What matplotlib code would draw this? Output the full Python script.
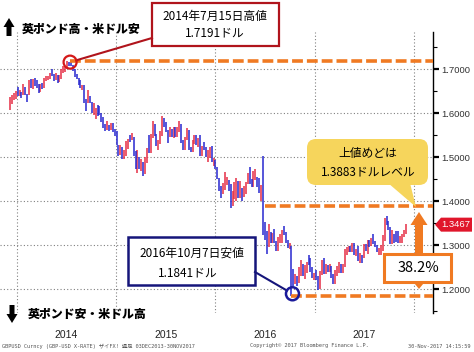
import matplotlib
matplotlib.use("Agg")
import matplotlib.pyplot as plt
import matplotlib.dates as mdates
from matplotlib.patches import FancyBboxPatch, Rectangle, Polygon, Circle
from matplotlib.ticker import MultipleLocator
import numpy as np
import pandas as pd

plt.rcParams["font.family"] = ["Noto Sans CJK JP", "DejaVu Sans"]

# GBPUSD weekly bars (Friday), Dec 2013 - Nov 2017
close = np.array([
    1.628, 1.634, 1.6345, 1.6465,
    1.642, 1.6455, 1.642, 1.656, 1.644, 1.6405, 1.672, 1.6655, 1.674, 1.6735, 1.6625, 1.649, 1.6635,
    1.658, 1.6745, 1.6795, 1.6805, 1.6885, 1.686, 1.679, 1.684, 1.6745, 1.6825, 1.697, 1.7015, 1.702,
    1.7155, 1.711, 1.7085, 1.6985, 1.683, 1.679, 1.670, 1.6565, 1.6595, 1.631, 1.627, 1.6315, 1.6245,
    1.602, 1.6085, 1.609, 1.6085, 1.5995, 1.5865, 1.5675, 1.567, 1.5715, 1.5625, 1.571, 1.564, 1.5545,
    1.527, 1.5135, 1.516, 1.499, 1.506, 1.5235, 1.5395, 1.539, 1.5435, 1.504, 1.4735, 1.4905, 1.4875,
    1.490, 1.464, 1.4975, 1.518, 1.5135, 1.5445, 1.574, 1.5495, 1.5285, 1.5305, 1.5565, 1.588, 1.5745,
    1.5605, 1.5515, 1.5605, 1.551, 1.5615, 1.5505, 1.564, 1.570, 1.538, 1.5185, 1.543, 1.553, 1.519,
    1.518, 1.533, 1.5445, 1.5315, 1.5425, 1.504, 1.5225, 1.519, 1.503, 1.512, 1.521, 1.490, 1.490,
    1.474, 1.454, 1.426, 1.423, 1.425, 1.4495, 1.450, 1.440, 1.386, 1.4225, 1.439, 1.448, 1.412,
    1.432, 1.412, 1.420, 1.440, 1.462, 1.444, 1.437, 1.451, 1.463, 1.439, 1.426, 1.436, 1.368,
    1.328, 1.295, 1.319, 1.3105, 1.322, 1.309, 1.2935, 1.3075, 1.3215, 1.328, 1.3265, 1.306, 1.2965,
    1.2975, 1.243, 1.219, 1.2215, 1.219, 1.2485, 1.2595, 1.238, 1.248, 1.258, 1.257, 1.249, 1.228, 1.234,
    1.2285, 1.218, 1.237, 1.256, 1.248, 1.248, 1.241, 1.247, 1.230, 1.216, 1.240, 1.248, 1.255,
    1.240, 1.253, 1.282, 1.294, 1.296, 1.288, 1.303, 1.280, 1.289, 1.274, 1.278, 1.272, 1.302,
    1.288, 1.310, 1.299, 1.313, 1.304, 1.301, 1.287, 1.288, 1.299, 1.320, 1.359, 1.350, 1.339,
    1.307, 1.329, 1.319, 1.313, 1.306, 1.319, 1.322, 1.333, 1.3467,
])
high = np.array([
    1.637, 1.642, 1.645, 1.650,
    1.660, 1.652, 1.647, 1.667, 1.660, 1.644, 1.674, 1.678, 1.677, 1.679, 1.675, 1.665, 1.6655,
    1.668, 1.679, 1.684, 1.685, 1.692, 1.6995, 1.688, 1.692, 1.686, 1.686, 1.699, 1.7065, 1.705,
    1.718, 1.717, 1.7191, 1.710, 1.6995, 1.688, 1.680, 1.675, 1.663, 1.664, 1.631, 1.652, 1.639,
    1.626, 1.6225, 1.6125, 1.618, 1.615, 1.601, 1.592, 1.576, 1.581, 1.574, 1.5785, 1.5785, 1.565,
    1.559, 1.5275, 1.527, 1.5225, 1.516, 1.5355, 1.541, 1.5495, 1.555, 1.5465, 1.5145, 1.5165, 1.4995,
    1.4955, 1.490, 1.500, 1.520, 1.550, 1.5525, 1.5815, 1.575, 1.553, 1.539, 1.560, 1.593, 1.5885,
    1.580, 1.561, 1.5675, 1.563, 1.5675, 1.569, 1.568, 1.5815, 1.575, 1.540, 1.546, 1.566, 1.561,
    1.5235, 1.5385, 1.551, 1.551, 1.544, 1.5505, 1.525, 1.534, 1.524, 1.516, 1.524, 1.5245, 1.4985,
    1.4925, 1.4765, 1.453, 1.435, 1.441, 1.4665, 1.456, 1.447, 1.440, 1.423, 1.444, 1.4515, 1.446,
    1.446, 1.431, 1.4345, 1.444, 1.4635, 1.477, 1.450, 1.4675, 1.474, 1.456, 1.453, 1.437, 1.502,
    1.3535, 1.3325, 1.348, 1.329, 1.3285, 1.337, 1.309, 1.3185, 1.3265, 1.334, 1.3445, 1.3295, 1.3125,
    1.3055, 1.2975, 1.245, 1.235, 1.229, 1.251, 1.2675, 1.2575, 1.255, 1.2615, 1.2775, 1.271, 1.250, 1.236,
    1.243, 1.230, 1.2415, 1.2675, 1.2705, 1.258, 1.2545, 1.257, 1.252, 1.2345, 1.243, 1.253, 1.2615,
    1.2575, 1.257, 1.2905, 1.296, 1.299, 1.299, 1.305, 1.3045, 1.2915, 1.2975, 1.2815, 1.2775, 1.303,
    1.303, 1.3125, 1.3125, 1.316, 1.3265, 1.3105, 1.301, 1.2935, 1.2995, 1.3225, 1.3615, 1.3655, 1.355,
    1.3415, 1.334, 1.326, 1.332, 1.332, 1.322, 1.326, 1.3345, 1.348,
])
low = np.array([
    1.608, 1.620, 1.630, 1.633,
    1.638, 1.638, 1.634, 1.641, 1.642, 1.625, 1.640, 1.657, 1.655, 1.661, 1.658, 1.646, 1.647,
    1.655, 1.656, 1.672, 1.676, 1.678, 1.685, 1.673, 1.676, 1.669, 1.6695, 1.678, 1.692, 1.694,
    1.701, 1.707, 1.706, 1.696, 1.6825, 1.6765, 1.663, 1.656, 1.6535, 1.624, 1.605, 1.623, 1.623,
    1.601, 1.595, 1.5875, 1.594, 1.595, 1.579, 1.5665, 1.559, 1.562, 1.559, 1.561, 1.558, 1.549,
    1.5265, 1.5035, 1.504, 1.495, 1.495, 1.5015, 1.519, 1.5335, 1.539, 1.503, 1.473, 1.4635, 1.473,
    1.4695, 1.4565, 1.462, 1.487, 1.5085, 1.5085, 1.5445, 1.547, 1.525, 1.517, 1.530, 1.548, 1.569,
    1.5565, 1.533, 1.546, 1.545, 1.5425, 1.546, 1.545, 1.556, 1.533, 1.516, 1.517, 1.540, 1.516,
    1.511, 1.511, 1.530, 1.527, 1.524, 1.5025, 1.503, 1.517, 1.501, 1.4895, 1.499, 1.488, 1.4805,
    1.473, 1.451, 1.424, 1.408, 1.416, 1.426, 1.437, 1.424, 1.3835, 1.388, 1.4055, 1.4005, 1.4075,
    1.4065, 1.4005, 1.4085, 1.416, 1.439, 1.440, 1.433, 1.433, 1.447, 1.433, 1.419, 1.401, 1.3229,
    1.312, 1.2795, 1.295, 1.306, 1.3055, 1.306, 1.2865, 1.288, 1.3055, 1.306, 1.324, 1.3055, 1.2945,
    1.2915, 1.1841, 1.2085, 1.211, 1.208, 1.215, 1.230, 1.230, 1.223, 1.236, 1.255, 1.239, 1.225, 1.220,
    1.220, 1.1985, 1.200, 1.233, 1.2345, 1.235, 1.2385, 1.2385, 1.225, 1.211, 1.211, 1.230, 1.2375,
    1.2365, 1.2365, 1.2515, 1.2775, 1.2845, 1.284, 1.2845, 1.2775, 1.2765, 1.2635, 1.259, 1.259, 1.270,
    1.287, 1.281, 1.295, 1.2985, 1.3035, 1.2955, 1.284, 1.2775, 1.2775, 1.288, 1.309, 1.345, 1.334,
    1.3025, 1.303, 1.306, 1.308, 1.304, 1.306, 1.306, 1.319, 1.326,
])
weeks = pd.date_range("2013-12-06", periods=len(close), freq="7D")

year_labels = ["2014", "2015", "2016", "2017"]
y_ticks = [1.2, 1.3, 1.4, 1.5, 1.6, 1.7]

peak_value, peak_date = 1.7191, "2014-07-15"
trough_value, trough_date = 1.1841, "2016-10-07"
target_value, target_from = 1.3883, "2016-07-01"
last_value = 1.3467

RED, BLUE = "#E62E45", "#2727CF"
ORANGE = "#F07A22"

fig = plt.figure(figsize=(4.74, 3.52), dpi=100)
ax = fig.add_axes([0, 39 / 352, 433 / 474, 281 / 352])
x_left, x_right = pd.Timestamp("2013-10-30"), pd.Timestamp("2018-03-12")

opens = np.r_[close[0], close[:-1]]
up = close >= opens
ax.vlines(weeks[up], low[up], high[up], color=RED, lw=1.1, zorder=2)
ax.vlines(weeks[~up], low[~up], high[~up], color=BLUE, lw=1.1, zorder=2)

dash = dict(color=ORANGE, lw=2.6, dashes=(3, 1.1), zorder=3)
ax.plot([pd.Timestamp(peak_date), x_right], [peak_value] * 2, **dash)
ax.plot([pd.Timestamp(target_from), x_right], [target_value] * 2, **dash)
ax.plot([pd.Timestamp(trough_date), x_right], [trough_value] * 2, **dash)

ax.set_xlim(x_left, x_right)
ax.set_ylim(1.1461, 1.7841)
year_starts = [pd.Timestamp(f"{y}-01-01") for y in year_labels + ["2018"]]
ax.set_xticks(year_starts, labels=[""] * len(year_starts))
ax.set_xticks([pd.Timestamp(f"{y}-07-02") for y in year_labels], labels=year_labels, minor=True)
ax.tick_params(axis="x", which="both", length=0, pad=12, labelsize=7.5,
               labelcolor="#222222", labelfontfamily="Liberation Sans")

ax.yaxis.tick_right()
ax.set_yticks(y_ticks, labels=[f"{v:.4f}" for v in y_ticks])
ax.yaxis.set_minor_locator(MultipleLocator(0.05))
ax.tick_params(axis="y", which="major", length=4, width=1.6, pad=2, labelsize=6.8,
               labelcolor="#333333", labelfontfamily="Liberation Sans")
ax.tick_params(axis="y", which="minor", length=3, width=0.8)
ax.grid(which="major", linestyle=(0, (1, 2)), color="#808080", lw=0.8)
for side in ["left", "top", "bottom"]:
    ax.spines[side].set_visible(False)
ax.spines["right"].set_linewidth(1.0)

# overlay in pixel units for the callouts
ov = fig.add_axes([0, 0, 1, 1])
ov.set_xlim(0, 474)
ov.set_ylim(352, 0)
ov.axis("off")


def to_px(date, value):
    xd, yd = ax.transData.transform((mdates.date2num(pd.Timestamp(date)), value))
    return xd, 352 - yd


def leader(x0, y0, cx, cy, r, color):
    d = np.hypot(cx - x0, cy - y0)
    ov.plot([x0, cx - (cx - x0) * r / d], [y0, cy - (cy - y0) * r / d], color=color, lw=1.5)


# 2014 high
px, py = to_px(peak_date, peak_value)
ov.add_patch(Circle((px, py + 1.5), 6.5, fill=False, ec="#D41818", lw=1.6, zorder=4))
ov.add_patch(Rectangle((152, 3), 127, 43, fc="white", ec="#B0141C", lw=1.6))
ov.text(215, 16, "2014年7月15日高値", ha="center", va="center", fontsize=8.5)
ov.text(215, 33, f"{peak_value}ドル", ha="center", va="center", fontsize=8.5)
leader(152, 38, px, py + 1.5, 6.5, "#B0141C")

# 2016 low
tx, ty = to_px(trough_date, trough_value)
ov.add_patch(Circle((tx + 1, ty - 2.5), 6.5, fill=False, ec="#1A1A9A", lw=1.8, zorder=4))
ov.add_patch(Rectangle((128, 237), 127, 48, fc="white", ec="#15157A", lw=1.8))
ov.text(192, 253, "2016年10月7日安値", ha="center", va="center", fontsize=8.5)
ov.text(188, 273, f"{trough_value}ドル", ha="center", va="center", fontsize=8.5)
leader(255, 272, tx + 1, ty - 2.5, 6.5, "#15157A")

# target bubble
ov.add_patch(FancyBboxPatch((307, 139), 121, 46, boxstyle="round,pad=0,rounding_size=9",
                            fc="#F6D55C", ec="none"))
ov.add_patch(Polygon([(388, 183), (410, 183), (416, 207)], closed=True, fc="#F6D55C", ec="none"))
ov.text(368, 154, "上値めどは", ha="center", va="center", fontsize=8.5)
ov.text(368, 172, f"{target_value}ドルレベル", ha="center", va="center", fontsize=8.5)

# retracement arrow + box
ov.arrow(419, 256, 0, -44, width=8, head_width=17, head_length=13,
         length_includes_head=True, color=ORANGE, lw=0)
ov.arrow(419, 268, 0, 21, width=8, head_width=13, head_length=8,
         length_includes_head=True, color=ORANGE, lw=0)
ov.add_patch(Rectangle((384, 254), 67, 28, fc="white", ec=ORANGE, lw=2.2, zorder=5))
ov.text(418, 268, "38.2%", ha="center", va="center", fontsize=10.5, zorder=6)

# last price tag
lx, ly = to_px(weeks[-1], last_value)
ov.add_patch(Polygon([(435, ly), (441, ly - 7), (472, ly - 7), (472, ly + 7), (441, ly + 7)],
                     closed=True, fc="#E0162B", ec="none"))
ov.text(456, ly, f"{last_value:.4f}", ha="center", va="center", fontsize=6.8,
        color="white", family="Liberation Sans")

# direction labels
ov.arrow(9, 36, 0, -18, width=5, head_width=11, head_length=9,
         length_includes_head=True, color="black", lw=0)
ov.text(22, 29, "英ポンド高・米ドル安", ha="left", va="center", fontsize=8.6, fontweight="heavy")
ov.arrow(12, 305, 0, 18, width=5, head_width=11, head_length=9,
         length_includes_head=True, color="black", lw=0)
ov.text(28, 314, "英ポンド安・米ドル高", ha="left", va="center", fontsize=8.6, fontweight="heavy")

# footer
foot = dict(fontsize=3.8, color="#555555", va="center", family=["DejaVu Sans Mono", "Noto Sans CJK JP"])
ov.text(2, 346, "GBPUSD Curncy (GBP-USD X-RATE) ザイFX! 週足 03DEC2013-30NOV2017", ha="left", **foot)
ov.text(250, 346, "Copyright© 2017 Bloomberg Finance L.P.", ha="left", **foot)
ov.text(471, 346, "30-Nov-2017 14:15:59", ha="right", **foot)

fig.savefig("out.png", dpi=100)
